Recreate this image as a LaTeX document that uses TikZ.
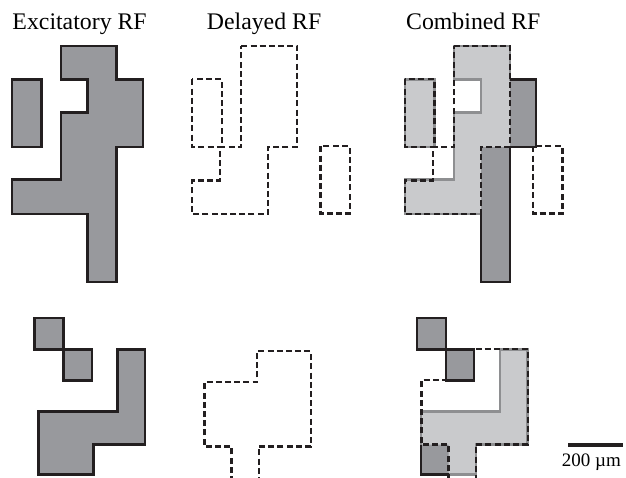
\documentclass[tikz,border=0pt]{standalone}
\usepackage{fontspec}
\setmainfont{Liberation Serif}
\definecolor{excfill}{HTML}{98999D}
\definecolor{bothfill}{HTML}{C9CACC}
\definecolor{edgegray}{HTML}{8E8F91}
\definecolor{ink}{HTML}{231F20}
% top row shapes (excitatory grid coordinates)
\def\ExcMainTop{(60.7,45.7) -- (116.5,45.7) -- (116.5,79.3) -- (142.7,79.3) -- (142.7,146.8) -- (116.5,146.8) -- (116.5,281.7) -- (87.5,281.7) -- (87.5,214) -- (11.7,214) -- (11.7,179.3) -- (60.7,179.3) -- (60.7,112.5) -- (87.5,112.5) -- (87.5,79.3) -- (60.7,79.3) -- cycle}
\def\ExcRectTop{(11.7,79.3) rectangle (41.3,146.8)}
\def\DelMainTop{(60.7,45.7) -- (116.5,45.7) -- (116.5,146.8) -- (87.5,146.8) -- (87.5,214) -- (11.7,214) -- (11.7,180.5) -- (39.5,180.5) -- (39.5,146.8) -- (60.7,146.8) -- cycle}
\def\DelLeftTop{(11.7,79.3) rectangle (41.3,146.8)}
\def\DelRightTop{(140,146.3) rectangle (169.2,213.5)}
% bottom row shapes
\def\ExcSqA{(34.3,317.7) rectangle (63.3,349.3)}
\def\ExcSqB{(63.3,349.3) rectangle (91.7,380.3)}
\def\ExcL{(117.3,349.3) -- (145,349.3) -- (145,444.5) -- (93.3,444.5) -- (93.3,474.5) -- (38.3,474.5) -- (38.3,411.3) -- (117.3,411.3) -- cycle}
\def\DelBot{(66.2,480) -- (66.2,444.5) -- (39.2,444.5) -- (39.2,380.3) -- (91.6,380.3) -- (91.6,349.3) -- (145.4,349.3) -- (145.4,444.5) -- (93.4,444.5) -- (93.4,480)}
\def\DelBotArea{(66.2,480) -- (66.2,444.5) -- (39.2,444.5) -- (39.2,380.3) -- (91.6,380.3) -- (91.6,349.3) -- (145.4,349.3) -- (145.4,444.5) -- (93.4,444.5) -- (93.4,480) -- cycle}
\begin{document}
\begin{tikzpicture}[x=1pt,y=-1pt,
  excshape/.style={fill=excfill,draw=ink,line width=2.4pt},
  delshape/.style={draw=ink,line width=2.3pt,dash pattern=on 6pt off 3.2pt},
  grayedge/.style={draw=edgegray,line width=2.4pt},
  inkedge/.style={draw=ink,line width=2.4pt},
  title/.style={anchor=base west,inner sep=0pt,font=\fontsize{23.8}{28}\selectfont}]
\useasboundingbox (0,0) rectangle (626,477);
% titles
\node[title] (t1) at (12.3,29) {Excitatory RF};
\node[title] (t2) at (206.7,29) {Delayed RF};
\node[title] (t3) at (406,29) {Combined RF};
% ---------------- excitatory panel
\path[excshape] \ExcMainTop;
\path[excshape] \ExcRectTop;
\path[excshape] \ExcSqA;
\path[excshape] \ExcSqB;
\path[excshape] \ExcL;
% ---------------- delayed panel
\begin{scope}[shift={(180.6,0)}]
\path[delshape] \DelMainTop;
\path[delshape] \DelLeftTop;
\path[delshape] \DelRightTop;
\end{scope}
\begin{scope}[shift={(165.3,2)}]
\path[delshape] \DelBot;
\end{scope}
% ---------------- combined panel, top
\begin{scope}[shift={(393.3,0)}]
\fill[excfill] \ExcMainTop;
\fill[excfill] \ExcRectTop;
\begin{scope}
\clip \DelMainTop \DelLeftTop;
\fill[bothfill] \ExcMainTop;
\fill[bothfill] \ExcRectTop;
\end{scope}
\path[grayedge] \ExcMainTop;
\path[grayedge] \ExcRectTop;
\draw[inkedge] (116.5,79.3) -- (142.7,79.3) -- (142.7,146.8) -- (116.5,146.8);
\draw[inkedge] (87.5,214) -- (87.5,281.7) -- (116.5,281.7) -- (116.5,146.8);
\path[delshape] \DelMainTop;
\path[delshape] \DelLeftTop;
\path[delshape] \DelRightTop;
\end{scope}
% ---------------- combined panel, bottom
\begin{scope}[shift={(382.4,0)}]
\fill[excfill] \ExcSqA;
\fill[excfill] \ExcSqB;
\fill[excfill] \ExcL;
\begin{scope}
\clip \DelBotArea;
\fill[bothfill] \ExcL;
\end{scope}
\path[grayedge] \ExcL;
\path[inkedge] \ExcSqA;
\path[inkedge] \ExcSqB;
\draw[inkedge] (66.2,474.5) -- (38.3,474.5) -- (38.3,444.5);
\path[delshape] \DelBot;
\end{scope}
% ---------------- scale bar
\fill[ink] (568.3,442.7) rectangle (622.7,447);
\node[anchor=base west,inner sep=0pt,font=\fontsize{19}{22}\selectfont] (sb) at (561.7,466) {200 µm};
\end{tikzpicture}
\end{document}
